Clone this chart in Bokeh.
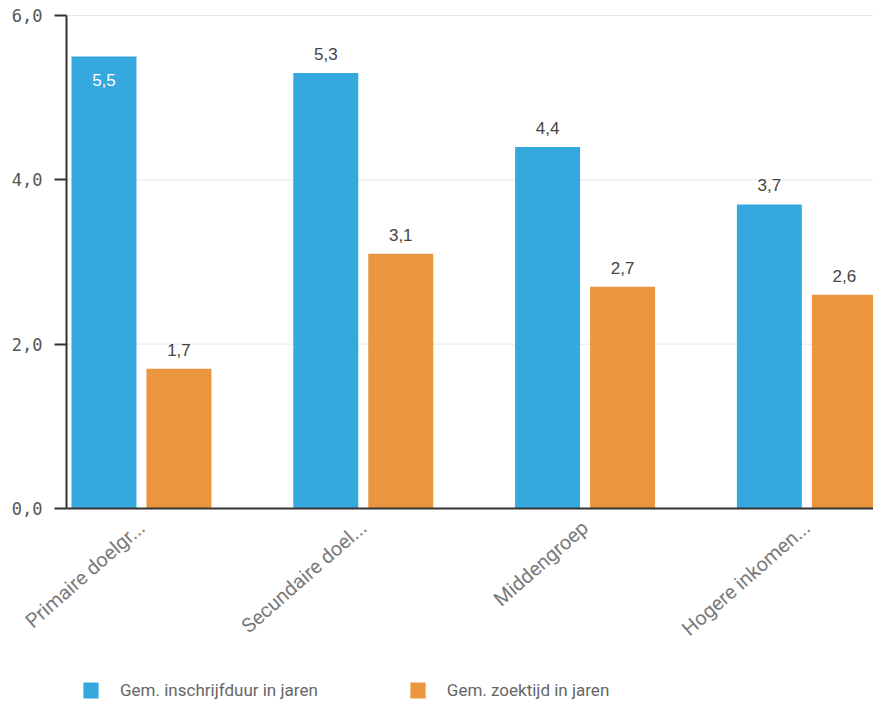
from bokeh.plotting import figure
from bokeh.models import ColumnDataSource, Range1d, FixedTicker, Legend, LegendItem
from bokeh.transform import dodge
from bokeh.embed import file_html
from bokeh.resources import INLINE
from bokeh.core.properties import value

categories = ["Primaire doelgr...", "Secundaire doel...", "Middengroep", "Hogere inkomen..."]
inschrijfduur = [5.5, 5.3, 4.4, 3.7]
zoektijd = [1.7, 3.1, 2.7, 2.6]
series_names = ["Gem. inschrijfduur in jaren", "Gem. zoektijd in jaren"]
y_ticks = [0, 2, 4, 6]
y_tick_labels = ["0,0", "2,0", "4,0", "6,0"]

BLUE = "#35a8e0"
ORANGE = "#eb963f"
Y_MAX = 6
OFF = 0.169
BAR_W = 0.293

W, H = 873, 700
PX_PER_Y = 493 / Y_MAX     # pixels per value unit
PX_PER_X = 221.8           # pixels per category
LEFT_PX, TOP_PX, BELOW_PX = 66, 15, 192
X_AXIS_POS = -0.338        # where the value axis sits, in category units
X_START = X_AXIS_POS - LEFT_PX / PX_PER_X
X_END = X_START + W / PX_PER_X
Y_START = -BELOW_PX / PX_PER_Y
Y_END = Y_MAX + TOP_PX / PX_PER_Y

xs = list(range(len(categories)))

p = figure(frame_width=W, frame_height=H,
           x_range=Range1d(X_START, X_END), y_range=Range1d(Y_START, Y_END),
           output_backend="svg", toolbar_location=None,
           min_border=0)
p.outline_line_color = None
p.background_fill_color = "white"
p.border_fill_color = "white"
p.xgrid.grid_line_color = None
p.ygrid.grid_line_color = None

# horizontal grid lines, from the value axis to the right edge
gsrc = ColumnDataSource(dict(y=y_ticks, x0=[X_AXIS_POS] * len(y_ticks), x1=[X_END] * len(y_ticks)))
p.segment(x0="x0", x1="x1", y0="y", y1="y", source=gsrc, line_color="#e8e8e8", line_width=1)

src = ColumnDataSource(dict(x=xs, a=inschrijfduur, b=zoektijd))
r1 = p.vbar(x=dodge("x", -OFF, range=p.x_range), top="a", bottom=0, width=BAR_W, source=src,
            fill_color=BLUE, line_color=None)
r2 = p.vbar(x=dodge("x", OFF, range=p.x_range), top="b", bottom=0, width=BAR_W, source=src,
            fill_color=ORANGE, line_color=None)

def fmt(v):
    return f"{v:.1f}".replace(".", ",")

lx, ly, lt, lc, lb, lo = [], [], [], [], [], []
for series, off in ((inschrijfduur, -OFF), (zoektijd, OFF)):
    for i, v in zip(xs, series):
        inside = v > 0.9 * Y_MAX
        lx.append(i + off)
        ly.append(v)
        lt.append(fmt(v))
        lc.append("white" if inside else "#444444")
        lb.append("top" if inside else "bottom")
        lo.append(17 if inside else -13)
lsrc = ColumnDataSource(dict(x=lx, y=ly, t=lt, c=lc, b=lb, o=lo))
p.text(x="x", y="y", text="t", source=lsrc, text_color="c", text_align="center",
       text_baseline="b", y_offset="o", text_font=value("Liberation Sans"),
       text_font_size="17px")

# y axis, drawn at X_AXIS_POS
ya = p.yaxis[0]
ya.fixed_location = X_AXIS_POS
ya.ticker = FixedTicker(ticks=y_ticks)
ya.bounds = (0, Y_MAX)
ya.major_label_overrides = dict(zip(y_ticks, y_tick_labels))
ya.major_tick_out = 12
ya.major_tick_in = 0
ya.minor_tick_line_color = None
ya.axis_line_color = "#333333"
ya.axis_line_width = 2
ya.major_tick_line_color = "#333333"
ya.major_tick_line_width = 2
ya.major_label_text_font = "DejaVu Sans Mono"
ya.major_label_text_font_size = "17px"
ya.major_label_text_color = "#555555"
ya.major_label_standoff = 12

# x axis, drawn at value 0
xa = p.xaxis[0]
xa.fixed_location = 0
xa.bounds = (X_AXIS_POS, X_END)
xa.ticker = FixedTicker(ticks=xs)
xa.major_label_overrides = dict(zip(xs, categories))
xa.major_tick_line_color = None
xa.minor_tick_line_color = None
xa.axis_line_color = "#333333"
xa.axis_line_width = 2
xa.major_label_orientation = 0.72
xa.major_label_text_font = "Roboto"
xa.major_label_text_font_size = "20px"
xa.major_label_text_color = "#7a7a7a"
xa.major_label_standoff = 10

legend = Legend(items=[LegendItem(label=series_names[0], renderers=[r1]),
                       LegendItem(label=series_names[1], renderers=[r2])],
                orientation="horizontal", location=(81, 0),
                glyph_width=19, glyph_height=20, label_standoff=20, spacing=90,
                padding=0, margin=0, border_line_color=None, background_fill_alpha=0,
                label_text_font="Roboto", label_text_font_size="17px",
                label_text_color="#666666")
p.add_layout(legend, "center")

open("out.html", "w").write(file_html(p, INLINE))
